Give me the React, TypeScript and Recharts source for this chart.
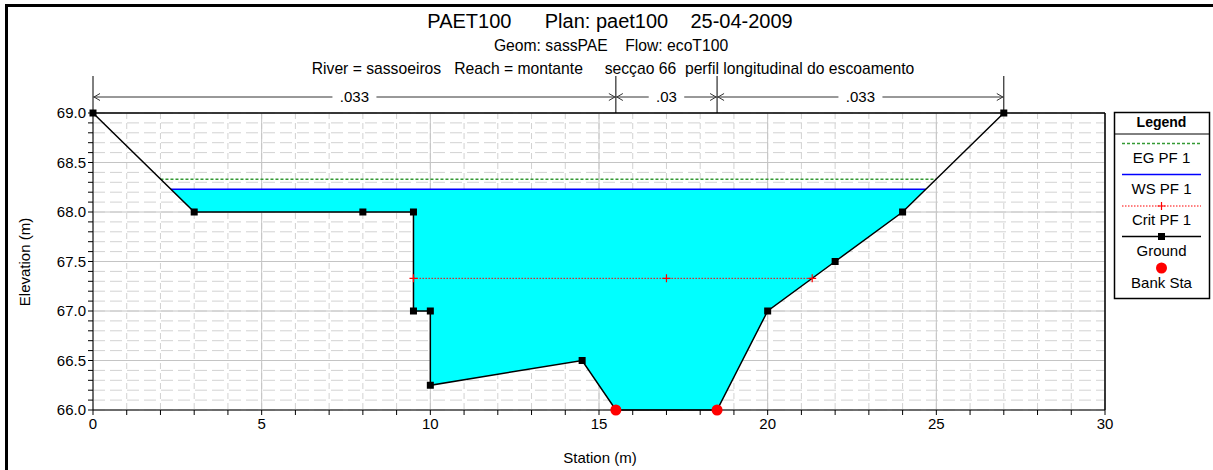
import { ComposedChart, Line, Area, XAxis, YAxis, CartesianGrid, ReferenceLine } from 'recharts'

// ground profile (station m, elevation m)
const groundStation = [0, 3, 8, 9.5, 9.5, 10, 10, 14.5, 15.5, 18.5, 20, 22, 24, 27]
const groundElev = [69, 68, 68, 68, 67, 67, 66.25, 66.5, 66, 66, 67, 67.5, 68, 69]

// water surface, energy grade, critical depth
const wsElev = 68.23
const wsStation = [2.31, 24.69]
const egElev = 68.33
const egStation = [2.0, 25.0]
const critElev = 67.33
const critStation = [9.5, 17.0, 21.32]

// bank stations
const bankStation = [15.5, 18.5]
const bankElev = [66, 66]

// manning n regions
const nStation = [0, 15.5, 18.5, 27]
const nValue = ['.033', '.03', '.033']

// axis ticks
const xTicks = [0, 1, 2, 3, 4, 5, 6, 7, 8, 9, 10, 11, 12, 13, 14, 15, 16, 17, 18, 19, 20, 21, 22, 23, 24, 25, 26, 27, 28, 29, 30]
const xMajor = [0, 5, 10, 15, 20, 25, 30]
const yTicks = [66.0, 66.1, 66.2, 66.3, 66.4, 66.5, 66.6, 66.7, 66.8, 66.9, 67.0, 67.1, 67.2, 67.3, 67.4, 67.5, 67.6, 67.7, 67.8, 67.9,
  68.0, 68.1, 68.2, 68.3, 68.4, 68.5, 68.6, 68.7, 68.8, 68.9, 69.0]
const yMajor = [66.0, 66.5, 67.0, 67.5, 68.0, 68.5, 69.0]

const groundData = groundStation.map((s, i) => ({ station: s, elev: groundElev[i] }))
const wsData = wsStation.map((s) => ({ station: s, elev: wsElev }))
const egData = egStation.map((s) => ({ station: s, elev: egElev }))
const critData = critStation.map((s) => ({ station: s, elev: critElev }))
const bankData = bankStation.map((s, i) => ({ station: s, elev: bankElev[i] }))
// wetted area between ground and water surface
const wetData = [
  { station: wsStation[0], range: [wsElev, wsElev] },
  ...groundData.filter((d) => d.station > wsStation[0] && d.station < wsStation[1]).map((d) => ({ station: d.station, range: [d.elev, wsElev] })),
  { station: wsStation[1], range: [wsElev, wsElev] },
]

const FONT = 'Liberation Sans, Arial, sans-serif'

const SquareDot = (p: any) => {
  if (p.cx == null) return <g key={p.index} />
  return <rect key={p.index} x={p.cx - 3.5} y={p.cy - 3.5} width={7} height={7} fill="#000" />
}
const PlusDot = (p: any) => {
  if (p.cx == null) return <g key={p.index} />
  return <path key={p.index} d={`M${p.cx - 4},${p.cy} H${p.cx + 4} M${p.cx},${p.cy - 4} V${p.cy + 4}`} stroke="#ff0000" strokeWidth={1.2} />
}
const BankDot = (p: any) => {
  if (p.cx == null) return <g key={p.index} />
  return <circle key={p.index} cx={p.cx} cy={p.cy} r={5.5} fill="#ff0000" />
}

const nBar = (label: string) => (p: any) => {
  const y = Math.min(p.y1, p.y2) - 16
  const cx = (p.x1 + p.x2) / 2
  const w = label.length * 8.5 + 10
  return (
    <g>
      <line x1={p.x1} y1={y} x2={p.x2} y2={y} stroke="#333" />
      <path d={`M${p.x1 + 7},${y - 3.5} L${p.x1 + 1},${y} L${p.x1 + 7},${y + 3.5} M${p.x2 - 7},${y - 3.5} L${p.x2 - 1},${y} L${p.x2 - 7},${y + 3.5}`} fill="none" stroke="#333" />
      <rect x={cx - w / 2} y={y - 9} width={w} height={18} fill="#fff" />
      <text x={cx} y={y + 5} textAnchor="middle" fontSize={15} fill="#000" fontFamily={FONT}>{label}</text>
    </g>
  )
}
const nTick = (p: any) => {
  const top = Math.min(p.y1, p.y2)
  return <line x1={p.x1} y1={top - 37} x2={p.x1} y2={top} stroke="#000" />
}

function Legend() {
  const x0 = 1122, x1 = 1201, cx = 1161.5
  return (
    <g fontFamily={FONT} fontSize={15} fill="#000">
      <rect x={1114.5} y={112.5} width={95} height={186} fill="#fff" stroke="#000" strokeWidth={1.5} />
      <line x1={1114.5} y1={134} x2={1209.5} y2={134} stroke="#000" />
      <text x={cx} y={127} textAnchor="middle" fontWeight="bold" fontSize={14}>Legend</text>
      <line x1={x0} y1={143.5} x2={x1} y2={143.5} stroke="#339933" strokeWidth={1.5} strokeDasharray="3 2" />
      <text x={cx} y={163} textAnchor="middle">EG PF 1</text>
      <line x1={x0} y1={174.5} x2={x1} y2={174.5} stroke="#0000ff" strokeWidth={1.5} />
      <text x={cx} y={194} textAnchor="middle">WS PF 1</text>
      <line x1={x0} y1={206} x2={x1} y2={206} stroke="#ff0000" strokeDasharray="1.5 1.5" />
      <path d={`M${cx - 4},206 H${cx + 4} M${cx},202 V210`} stroke="#ff0000" strokeWidth={1.2} />
      <text x={cx} y={225} textAnchor="middle">Crit PF 1</text>
      <line x1={x0} y1={236.5} x2={x1} y2={236.5} stroke="#000" strokeWidth={1.5} />
      <rect x={cx - 3.5} y={233} width={7} height={7} fill="#000" />
      <text x={cx} y={256} textAnchor="middle">Ground</text>
      <circle cx={cx} cy={268} r={5.5} fill="#ff0000" />
      <text x={cx} y={288} textAnchor="middle">Bank Sta</text>
    </g>
  )
}

export default function App() {
  return (
    <div style={{ position: 'absolute', left: 0, top: 0, width: 1213, height: 470, background: '#fff', fontFamily: FONT, overflow: 'hidden' }}>
      <ComposedChart width={1213} height={470} margin={{ top: 113, right: 108, bottom: 30, left: 0 }}>
        <CartesianGrid horizontal={false} verticalValues={xTicks} stroke="#d2d2d2" strokeDasharray="6 4" />
        <CartesianGrid vertical={false} horizontalValues={yTicks} stroke="#d2d2d2" strokeDasharray="12 5" />
        <CartesianGrid verticalValues={xMajor} horizontalValues={yMajor} stroke="#c4c4c4" />
        <XAxis dataKey="station" type="number" domain={[0, 30]} ticks={xTicks} interval={0} allowDuplicatedCategory={false}
          tickFormatter={(v: number) => (v % 5 === 0 ? String(v) : '')}
          tick={{ fill: '#000', fontSize: 15 }} tickSize={5} tickMargin={3} stroke="#000" height={30} />
        <YAxis type="number" domain={[66, 69]} ticks={yTicks} interval={0} width={93}
          tickFormatter={(v: number) => (Math.abs(v * 2 - Math.round(v * 2)) < 1e-6 ? v.toFixed(1) : '')}
          tick={{ fill: '#000', fontSize: 15 }} tickSize={5} tickMargin={2} stroke="#000" />
        <Area data={wetData} dataKey="range" type="linear" fill="#00ffff" fillOpacity={1} stroke="none" isAnimationActive={false} />
        <ReferenceLine y={69} stroke="#000" strokeWidth={1.5} />
        <ReferenceLine x={30} stroke="#000" strokeWidth={1.5} />
        {nStation.map((s) => (
          <ReferenceLine key={'t' + s} x={s} ifOverflow="visible" shape={nTick} />
        ))}
        {nValue.map((v, i) => (
          <ReferenceLine key={'n' + i} segment={[{ x: nStation[i], y: 69 }, { x: nStation[i + 1], y: 69 }]} ifOverflow="visible" shape={nBar(v)} />
        ))}
        <Line data={egData} dataKey="elev" type="linear" stroke="#339933" strokeWidth={1.5} strokeDasharray="3 2" dot={false} isAnimationActive={false} />
        <Line data={wsData} dataKey="elev" type="linear" stroke="#0000ff" strokeWidth={1.5} dot={false} isAnimationActive={false} />
        <Line data={critData} dataKey="elev" type="linear" stroke="#ff0000" strokeWidth={1} strokeDasharray="1.5 1.5" dot={PlusDot} isAnimationActive={false} />
        <Line data={groundData} dataKey="elev" type="linear" stroke="#000" strokeWidth={1.5} dot={SquareDot} isAnimationActive={false} />
        <Line data={bankData} dataKey="elev" type="linear" stroke="none" dot={BankDot} isAnimationActive={false} />
      </ComposedChart>
      <svg width={1213} height={470} style={{ position: 'absolute', left: 0, top: 0, pointerEvents: 'none' }}>
        <rect x={6.5} y={5.5} width={1300} height={600} fill="none" stroke="#000" strokeWidth={3} />
        <text x={610} y={28} textAnchor="middle" fontSize={20} fontFamily={FONT} style={{ whiteSpace: 'pre' }}>{'PAET100      Plan: paet100    25-04-2009'}</text>
        <text x={611} y={51} textAnchor="middle" fontSize={15.7} fontFamily={FONT} style={{ whiteSpace: 'pre' }}>{'Geom: sassPAE    Flow: ecoT100'}</text>
        <text x={613} y={74} textAnchor="middle" fontSize={15.7} fontFamily={FONT} style={{ whiteSpace: 'pre' }}>{'River = sassoeiros   Reach = montante     secçao 66  perfil longitudinal do escoamento'}</text>
        <text x={0} y={0} transform="translate(30,262) rotate(-90)" textAnchor="middle" fontSize={15} fontFamily={FONT}>Elevation (m)</text>
        <text x={600} y={463} textAnchor="middle" fontSize={15} fontFamily={FONT}>Station (m)</text>
        <Legend />
      </svg>
    </div>
  )
}
